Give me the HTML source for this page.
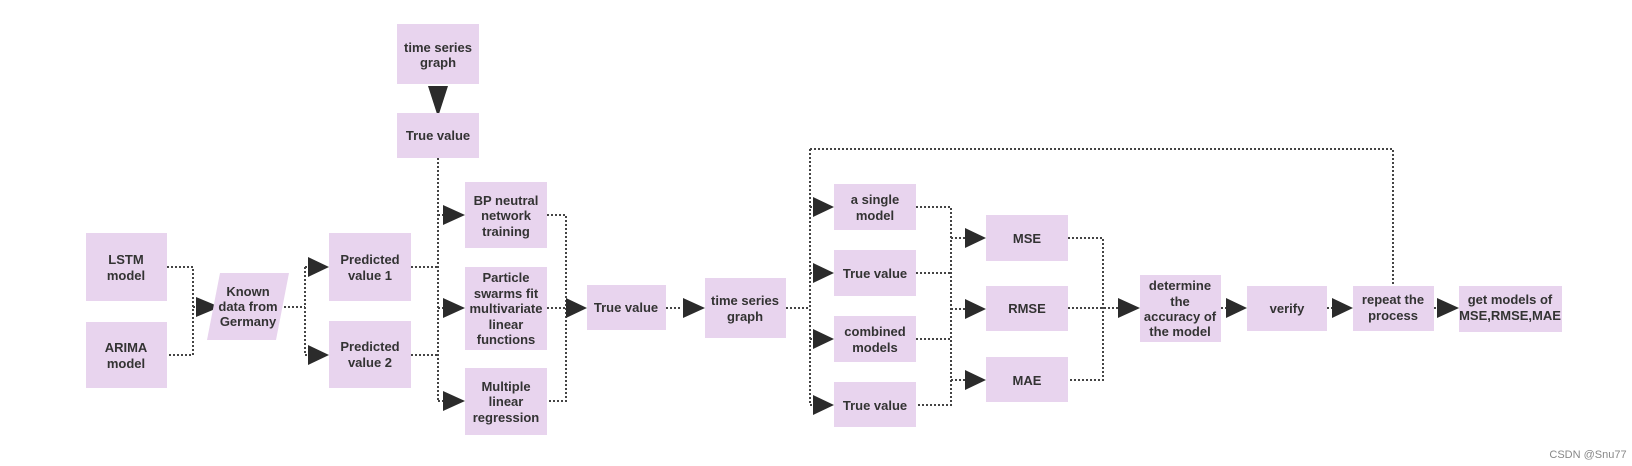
<!DOCTYPE html>
<html><head><meta charset="utf-8"><style>
html,body{margin:0;padding:0;background:#fff;}
svg{display:block;}
text{font-family:"Liberation Sans",sans-serif;font-weight:bold;font-size:13px;fill:#333;text-anchor:middle;}
.b{fill:#e8d4ee;}
.l{stroke:#444;stroke-width:2;stroke-dasharray:2,2;fill:none;}
.a{fill:#2b2b2b;}
</style></head><body>
<svg width="1632" height="466" viewBox="0 0 1632 466" xmlns="http://www.w3.org/2000/svg">
<!-- connectors -->
<g class="l">
<path d="M167 267H193V355H167"/><path d="M193 307H200"/>
<path d="M280 307H305"/><path d="M305 267V355"/><path d="M305 267H310M305 355H310"/>
<path d="M438 86V92"/>
<path d="M438 158V401"/><path d="M411 267H438M411 355H438"/>
<path d="M438 215H445M438 308H445M438 401H445"/>
<path d="M547 215H566V401H547M547 308H566"/><path d="M566 308H568"/>
<path d="M666 308H682"/>
<path d="M786 308H810"/>
<path d="M810 149V405"/><path d="M810 149H1393V286"/>
<path d="M810 207H815M810 273H815M810 339H815M810 405H815"/>
<path d="M916 207H951V405H916M916 273H951M916 339H951"/>
<path d="M951 238H965M951 309H965M951 380H965"/>
<path d="M1068 238H1103V380H1068M1068 308H1120"/>
<path d="M1221 308H1227"/><path d="M1327 308H1332"/><path d="M1434 308H1438"/>
</g>
<!-- arrowheads -->
<g class="a">
<polygon points="428,86 448,86 438,117"/>
<polygon points="196,297 196,317 220,307"/>
<polygon points="308,257 308,277 329,267"/>
<polygon points="308,345 308,365 329,355"/>
<polygon points="443,205 443,225 465,215"/>
<polygon points="443,298 443,318 465,308"/>
<polygon points="443,391 443,411 465,401"/>
<polygon points="566,298 566,318 587,308"/>
<polygon points="683,298 683,318 705,308"/>
<polygon points="813,197 813,217 834,207"/>
<polygon points="813,263 813,283 834,273"/>
<polygon points="813,329 813,349 834,339"/>
<polygon points="813,395 813,415 834,405"/>
<polygon points="965,228 965,248 986,238"/>
<polygon points="965,299 965,319 986,309"/>
<polygon points="965,370 965,390 986,380"/>
<polygon points="1118,298 1118,318 1140,308"/>
<polygon points="1226,298 1226,318 1247,308"/>
<polygon points="1332,298 1332,318 1353,308"/>
<polygon points="1437,298 1437,318 1459,308"/>
</g>
<!-- boxes -->
<g>
<rect class="b" x="86" y="233" width="81" height="68"/>
<text x="126" y="264">LSTM</text><text x="126" y="280">model</text>
<rect class="b" x="86" y="322" width="81" height="66"/>
<text x="126" y="352">ARIMA</text><text x="126" y="368">model</text>
<polygon class="b" points="220,273 289,273 276,340 207,340"/>
<text x="248" y="296">Known</text><text x="248" y="311">data from</text><text x="248" y="326">Germany</text>
<rect class="b" x="397" y="24" width="82" height="60"/>
<text x="438" y="52">time series</text><text x="438" y="67">graph</text>
<rect class="b" x="397" y="113" width="82" height="45"/>
<text x="438" y="140">True value</text>
<rect class="b" x="329" y="233" width="82" height="68"/>
<text x="370" y="264">Predicted</text><text x="370" y="280">value 1</text>
<rect class="b" x="329" y="321" width="82" height="67"/>
<text x="370" y="351">Predicted</text><text x="370" y="367">value 2</text>
<rect class="b" x="465" y="182" width="82" height="66"/>
<text x="506" y="205">BP neutral</text><text x="506" y="220">network</text><text x="506" y="236">training</text>
<rect class="b" x="465" y="267" width="82" height="83"/>
<text x="506" y="282">Particle</text><text x="506" y="298">swarms fit</text><text x="506" y="313">multivariate</text><text x="506" y="329">linear</text><text x="506" y="344">functions</text>
<rect class="b" x="465" y="368" width="82" height="67"/>
<text x="506" y="391">Multiple</text><text x="506" y="406">linear</text><text x="506" y="422">regression</text>
<rect class="b" x="587" y="285" width="79" height="45"/>
<text x="626" y="312">True value</text>
<rect class="b" x="705" y="278" width="81" height="60"/>
<text x="745" y="305">time series</text><text x="745" y="321">graph</text>
<rect class="b" x="834" y="184" width="82" height="46"/>
<text x="875" y="204">a single</text><text x="875" y="220">model</text>
<rect class="b" x="834" y="250" width="82" height="46"/>
<text x="875" y="278">True value</text>
<rect class="b" x="834" y="316" width="82" height="46"/>
<text x="875" y="336">combined</text><text x="875" y="352">models</text>
<rect class="b" x="834" y="382" width="82" height="45"/>
<text x="875" y="410">True value</text>
<rect class="b" x="986" y="215" width="82" height="46"/>
<text x="1027" y="243">MSE</text>
<rect class="b" x="986" y="286" width="82" height="45"/>
<text x="1027" y="313">RMSE</text>
<rect class="b" x="986" y="357" width="82" height="45"/>
<text x="1027" y="385">MAE</text>
<rect class="b" x="1140" y="275" width="81" height="67"/>
<text x="1180" y="290">determine</text><text x="1180" y="306">the</text><text x="1180" y="321">accuracy of</text><text x="1180" y="336">the model</text>
<rect class="b" x="1247" y="286" width="80" height="45"/>
<text x="1287" y="313">verify</text>
<rect class="b" x="1353" y="286" width="81" height="45"/>
<text x="1393" y="304">repeat the</text><text x="1393" y="320">process</text>
<rect class="b" x="1459" y="286" width="103" height="46"/>
<text x="1510" y="304">get models of</text><text x="1510" y="320">MSE,RMSE,MAE</text>
</g>
<text x="1588" y="458" style="font-weight:normal;font-size:11px;fill:#888;">CSDN @Snu77</text>
</svg>
</body></html>
